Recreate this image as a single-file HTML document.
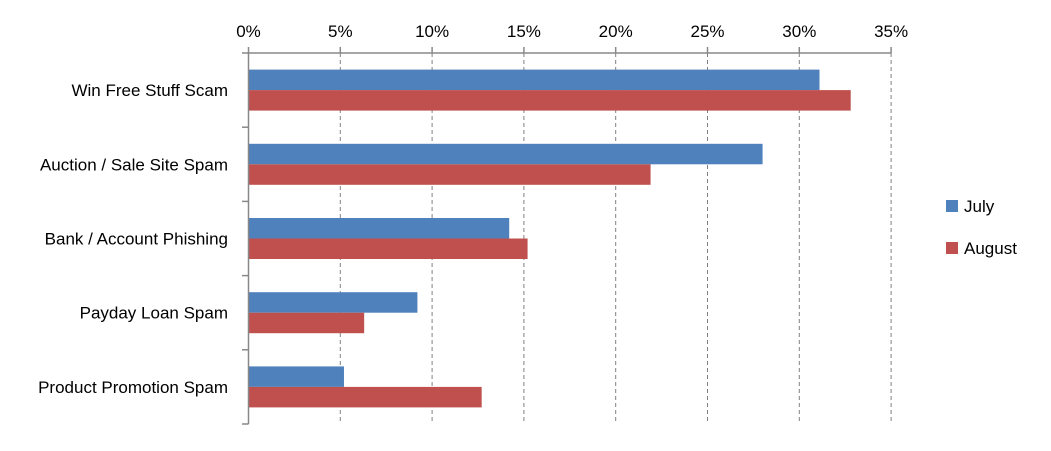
<!DOCTYPE html>
<html><head><meta charset="utf-8"><style>
body{margin:0;background:#fff;}
svg{display:block;font-family:"Liberation Sans",sans-serif;}
</style></head><body>
<svg id="chart" width="1051" height="451" viewBox="0 0 1051 451">
<g id="grid"></g><g id="bars"></g><g id="axes"></g><g id="legend"></g>
</svg>
<script>
const categories=["Win Free Stuff Scam","Auction / Sale Site Spam","Bank / Account Phishing","Payday Loan Spam","Product Promotion Spam"];
const july=[31.1,28.0,14.2,9.2,5.2];
const august=[32.8,21.9,15.2,6.3,12.7];
const ticks=[0,5,10,15,20,25,30,35];
const seriesNames=["July","August"];
(function(){
const NS="http://www.w3.org/2000/svg";
const x0=248.5, pxPer=18.36, plotTop=53, plotBot=424, band=(plotBot-plotTop)/categories.length;
const xs=v=>x0+v*pxPer;
function mk(t,a,p){const e=document.createElementNS(NS,t);for(const k in a)e.setAttribute(k,a[k]);p.appendChild(e);return e;}
const G=document.getElementById('grid'),B=document.getElementById('bars'),A=document.getElementById('axes'),L=document.getElementById('legend');
ticks.forEach(t=>{
 if(t>0){const g=mk('line',{x1:xs(t),x2:xs(t),y1:plotTop,y2:plotBot,stroke:'#808080','stroke-width':1,'stroke-dasharray':'4,3'},G);
 
 }
 const tk=mk('line',{x1:xs(t),x2:xs(t),y1:plotTop-6,y2:plotTop,stroke:'#888','stroke-width':1.5},A);
 
 
 const lb=mk('text',{x:xs(t),y:37,'text-anchor':'middle','font-size':17,fill:'#000'},A);
 lb.textContent=t+'%';
 
 
});
const cols=['#4f81bd','#c0504d'];
categories.forEach((c,i)=>{
 const mid=plotTop+i*band+band/2;
 [july,august].forEach((s,j)=>{
  const r=mk('rect',{x:x0+0.5,y:j?mid:mid-20.5,width:xs(s[i])-x0-0.5,height:20.5,fill:cols[j]},B);
  
  
 });
 const lb=mk('text',{x:228,y:mid+6,'text-anchor':'end','font-size':17,fill:'#000'},A);
 lb.textContent=c;
 
 
});
for(let i=0;i<=categories.length;i++){
 const t=mk('line',{x1:242,x2:x0,y1:plotTop+i*band,y2:plotTop+i*band,stroke:'#888','stroke-width':1.5},A);
 
 
}
const ax=mk('line',{x1:x0,x2:x0,y1:plotTop,y2:plotBot,stroke:'#888','stroke-width':1.5},A);


const tx=mk('line',{x1:x0,x2:xs(35),y1:plotTop,y2:plotTop,stroke:'#888','stroke-width':1.5},A);


seriesNames.forEach((n,j)=>{
 const y=200+j*42;
 const r=mk('rect',{x:946,y:y,width:12,height:12,fill:cols[j]},L);
 
 
 const t=mk('text',{x:964,y:y+12,'font-size':17,fill:'#000'},L);
 t.textContent=n;
 
 
});
})();
</script>
</body></html>
